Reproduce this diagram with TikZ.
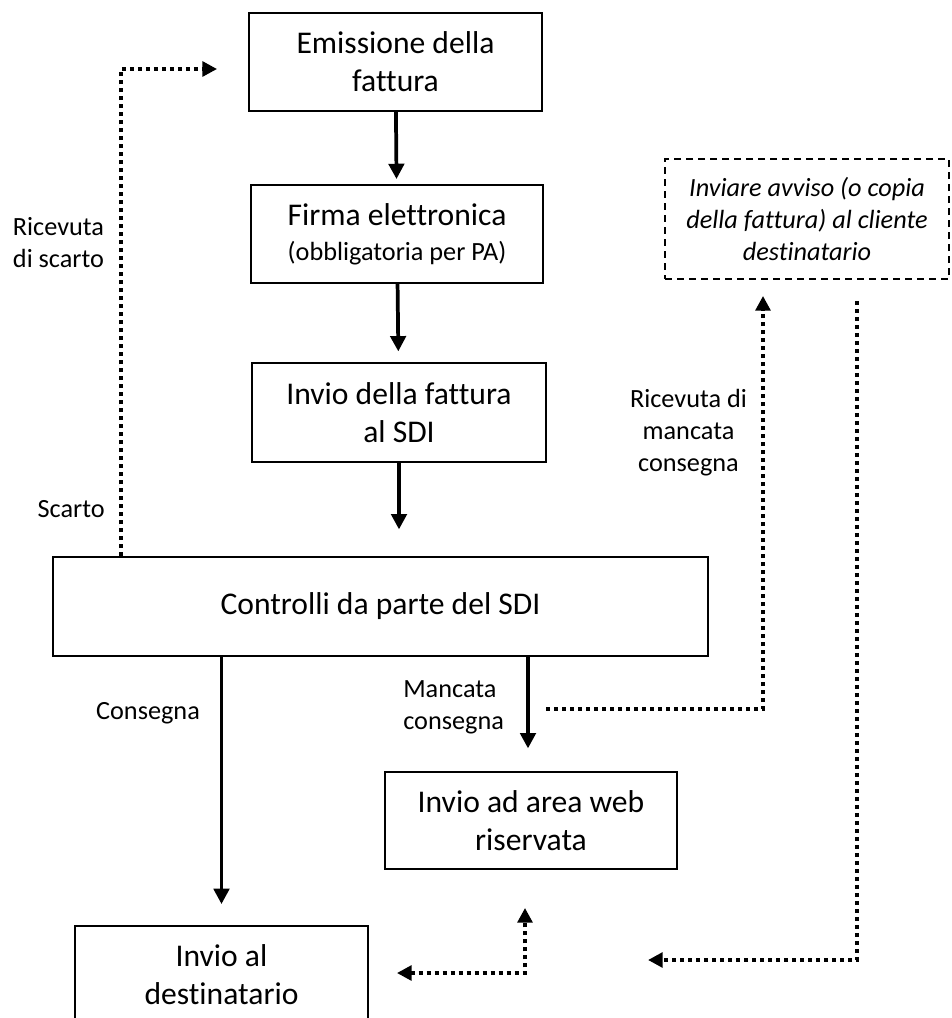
\documentclass[tikz,border=0pt]{standalone}
\usepackage{fontspec}
\setmainfont[Ligatures={NoCommon}]{Carlito}
\usetikzlibrary{arrows.meta,calc}
\tikzset{
  big/.style={font=\fontsize{23.7}{28.5}\selectfont},
  small/.style={font=\fontsize{19.7}{24}\selectfont},
  box/.style={draw, line width=1.4pt, align=center, inner sep=0pt, big},
  dbox/.style={draw, line width=1.4pt, dash pattern=on 5.5pt off 3.5pt, align=center, inner sep=0pt, small},
  lab/.style={inner sep=0pt, small},
  arr/.style={line width=2.8pt, -{Triangle[length=11.5pt,width=11.5pt]}},
  dotline/.style={line width=3pt, dash pattern=on 3pt off 3pt},
  dotarr/.style={dotline, -{Triangle[length=11pt,width=11pt]}},
  dotarrboth/.style={dotline, {Triangle[length=11pt,width=11pt]}-{Triangle[length=11pt,width=11pt]}},
}
\begin{document}
\begin{tikzpicture}[x=0.75pt,y=-0.75pt]
\useasboundingbox (0,0) rectangle (952,1018);
\clip (0,0) rectangle (952,1018);

% boxes
\node[box, minimum width=293*0.75pt, minimum height=98*0.75pt] (b1) at (395.5,62) {Emissione della\\fattura};
\node[box, minimum width=292*0.75pt, minimum height=98*0.75pt] (b2) at (397,234) {Firma elettronica\\[-2.25pt]{\fontsize{19.7}{24}\selectfont (obbligatoria per PA)}};
\node[box, minimum width=294*0.75pt, minimum height=99*0.75pt] (b3) at (399,412.5) {Invio della fattura\\al SDI};
\node[box, minimum width=655*0.75pt, minimum height=99*0.75pt] (b4) at (380.5,606.5) {Controlli da parte del SDI};
\node[box, minimum width=292*0.75pt, minimum height=97*0.75pt] (b5) at (531,820.5) {Invio ad area web\\riservata};
\node[box, minimum width=293*0.75pt, minimum height=98*0.75pt] (b6) at (221.5,975) {Invio al\\destinatario};
\node[dbox, minimum width=284*0.75pt, minimum height=120*0.75pt] (d) at (807,219) {\itshape Inviare avviso (o copia\\\itshape della fattura) al cliente\\\itshape destinatario};

% labels
\node[lab, align=center] (lrs) at (58.5,243) {Ricevuta\\di scarto};
\node[lab, anchor=east] (ls) at (105,509) {Scarto};
\node[lab] (lc) at (148,713) {Consegna};
\node[lab, align=left, anchor=west] (lm) at (403,707.5) {Mancata\\consegna};
\node[lab, align=center] (lrm) at (688.5,433) {Ricevuta di\\mancata\\consegna};

% solid arrows
\draw[arr, shorten >=3.75pt] (b1) -- (b2);
\draw[arr, shorten >=8pt] (b2) -- (b3);
\draw[arr, shorten >=20pt] (b3.south) -- (b3.south |- b4.north);
\draw[arr, shorten >=15.75pt] (b6.north |- b4.south) -- (b6.north);
\draw[arr, shorten >=17pt] ($(b5.north |- b4.south)+(-3,0)$) -- ($(b5.north)+(-3,0)$);

% dotted connectors
\coordinate (scx) at (121,0);
\draw[dotarr] (scx |- b4.north) |- ($(b1.west)+(-31,7)$);
\coordinate (m0) at (546,709);
\draw[dotarr] (m0) -| ($(d.south)+(-44,16)$);
\coordinate (r1) at (648,960);
\draw[dotarr] ($(d.south)+(50,21)$) |- (r1);
\draw[dotarrboth] ($(b6.east)+(28,-2)$) -| ($(b5.south)+(-6,38)$);
\end{tikzpicture}
\end{document}
